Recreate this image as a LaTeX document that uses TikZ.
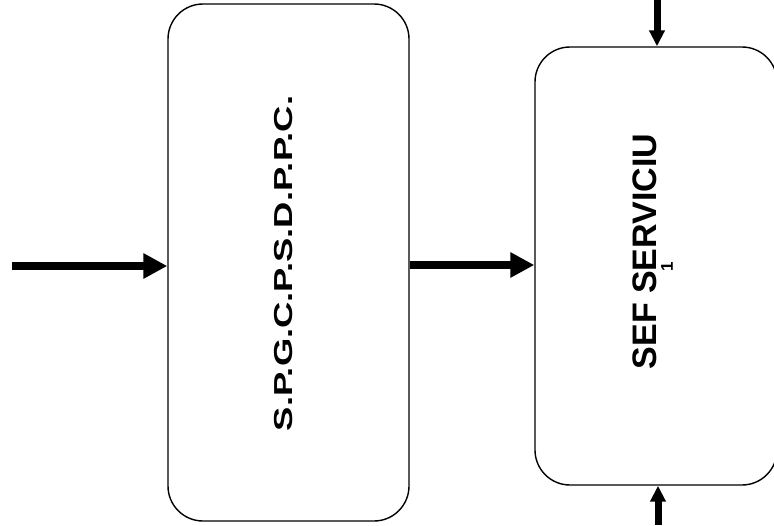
\documentclass[tikz,border=0pt]{standalone}
\usepackage{fontspec}
\usepackage{graphicx}
\setmainfont{Liberation Sans}
\usetikzlibrary{arrows.meta}
\begin{document}
\begin{tikzpicture}[x=1pt,y=-1pt,
  box/.style={draw, line width=1.4pt, rounded corners=35pt, inner sep=0pt},
  harr/.style={line width=8pt, -{Triangle[length=24pt,width=24pt]}},
  varr/.style={line width=7pt, -{Triangle[length=16pt,width=15pt]}},
  lbl/.style={rotate=90, inner sep=0pt}]
\useasboundingbox (0,0) rectangle (774,525);
\begin{scope}
\clip (0,0) rectangle (774,525);
\node[box, minimum width=241pt, minimum height=517pt] (L) at (288.5,262.5) {};
\node[box, minimum width=242pt, minimum height=438pt] (R) at (656,266) {};
\end{scope}
\node[lbl, font=\bfseries\fontsize{26}{30}\selectfont] (Lt) at (284,263.5) {\scalebox{1.4}[1]{S.P.G.C.P.S.D.P.P.C.}};
\node[lbl, font=\bfseries\fontsize{34}{40}\selectfont] (Rt) at (645,251.5) {SEF SERVICIU};
\node[lbl, font=\bfseries\fontsize{17}{20}\selectfont] (Rn) at (667,267) {1};
\coordinate (inS) at (12,266);
\draw[harr] (inS) -- (inS -| L.west);
\coordinate (mid) at (0,265);
\draw[harr] (L.east |- mid) -- (R.west |- mid);
\coordinate (topS) at (657,0);
\draw[varr] (topS) -- (topS |- R.north);
\coordinate (botS) at (658,525);
\draw[varr] (botS) -- (botS |- R.south);
\end{tikzpicture}
\end{document}
